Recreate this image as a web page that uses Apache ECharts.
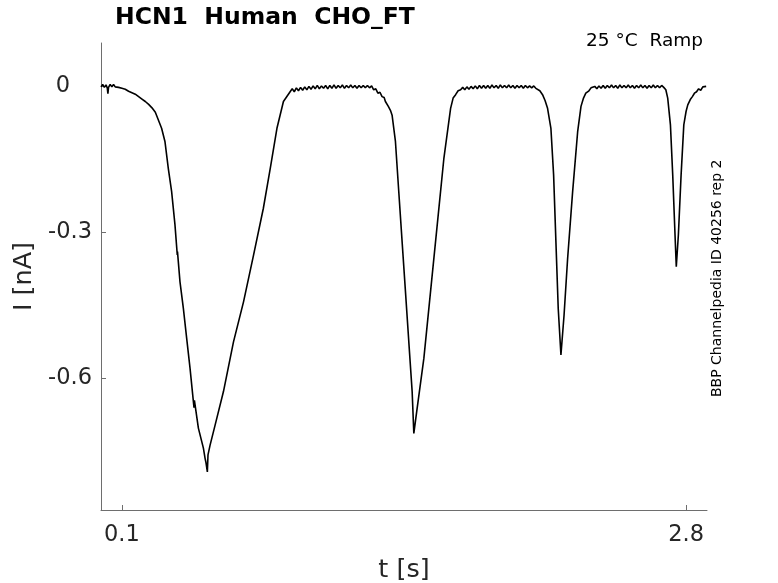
<!DOCTYPE html>
<html>
<head>
<meta charset="utf-8">
<script src="https://cdn.jsdelivr.net/npm/echarts@6/dist/echarts.min.js"></script>
<style>
html,body{margin:0;padding:0;background:#fff;}
#chart{width:778px;height:583px;}
</style>
</head>
<body>
<div id="chart"></div>
<script>
// Trace, segment by segment: time [s] and current [nA]
const baseA_t = [0.000,0.008,0.016,0.024,0.030,0.033,0.036,0.044,0.052,0.060,0.068,0.076,0.084,0.092,0.100,0.108,0.116,0.124,0.132,0.140,0.148,0.156,0.164,0.172,0.180,0.188,0.196,0.204,0.212,0.220,0.228,0.236,0.244,0.252,0.260,0.266];
const baseA_i = [-0.002,0.003,-0.003,0.002,-0.004,-0.016,-0.003,0.003,-0.002,0.003,-0.002,0.002,-0.003,0.001,-0.005,-0.001,-0.007,-0.003,-0.011,-0.007,-0.014,-0.010,-0.017,-0.013,-0.022,-0.019,-0.027,-0.024,-0.032,-0.029,-0.038,-0.035,-0.045,-0.044,-0.054,-0.056];

const trough1_t = [0.290,0.306,0.322,0.338,0.354,0.365,0.366,0.378,0.394,0.410,0.426,0.445,0.447,0.466,0.490,0.498,0.502,0.509,0.512,0.522,0.546,0.586,0.634,0.682,0.730,0.777,0.810,0.842,0.873,0.905];
const trough1_i = [-0.087,-0.114,-0.169,-0.217,-0.285,-0.347,-0.340,-0.402,-0.456,-0.518,-0.579,-0.660,-0.645,-0.702,-0.743,-0.764,-0.772,-0.792,-0.757,-0.737,-0.696,-0.627,-0.525,-0.443,-0.347,-0.251,-0.169,-0.087,-0.032,-0.012];

const baseB_t = [0.915,0.925,0.935,0.945,0.955,0.965,0.975,0.985,0.995,1.005,1.015,1.025,1.035,1.045,1.055,1.065,1.075,1.085,1.095,1.105,1.115,1.125,1.135,1.145,1.155,1.165,1.175,1.185,1.195,1.205,1.215,1.225,1.235,1.245,1.255,1.265,1.275,1.285];
const baseB_i = [-0.006,-0.012,-0.004,-0.010,-0.003,-0.009,-0.002,-0.008,-0.001,-0.007,0.000,-0.006,0.001,-0.006,0.000,-0.005,0.001,-0.006,0.001,-0.005,0.002,-0.005,0.001,-0.004,0.002,-0.005,0.001,-0.004,0.002,-0.004,0.001,-0.005,0.001,-0.004,0.001,-0.004,0.001,-0.004];

const trough2_t = [1.295,1.305,1.315,1.325,1.335,1.345,1.355,1.361,1.375,1.385,1.393,1.409,1.425,1.441,1.457,1.473,1.489,1.497,1.513,1.545,1.577,1.609,1.641,1.673,1.685,1.697,1.709,1.721];
const trough2_i = [0.000,-0.008,-0.006,-0.015,-0.013,-0.022,-0.024,-0.032,-0.042,-0.050,-0.060,-0.114,-0.217,-0.320,-0.422,-0.525,-0.627,-0.713,-0.661,-0.559,-0.422,-0.285,-0.148,-0.046,-0.025,-0.018,-0.010,-0.008];

const baseC_t = [1.731,1.741,1.751,1.761,1.771,1.781,1.791,1.801,1.811,1.821,1.831,1.841,1.851,1.861,1.871,1.881,1.891,1.901,1.911,1.921,1.931,1.941,1.951,1.961,1.971,1.981,1.991,2.001,2.011,2.021,2.031,2.041,2.051,2.061,2.071,2.081];
const baseC_i = [-0.003,-0.008,-0.002,-0.007,-0.001,-0.006,0.000,-0.006,0.001,-0.005,0.001,-0.005,0.001,-0.005,0.002,-0.004,0.001,-0.005,0.002,-0.004,0.001,-0.004,0.002,-0.004,0.001,-0.005,0.001,-0.004,0.001,-0.005,0.001,-0.004,0.000,-0.004,0.000,-0.005];

const trough3_t = [2.089,2.100,2.113,2.125,2.137,2.153,2.166,2.177,2.188,2.201,2.216,2.233,2.257,2.281,2.297,2.309,2.320,2.335,2.345,2.353];
const trough3_i = [-0.003,-0.010,-0.018,-0.030,-0.046,-0.087,-0.183,-0.320,-0.456,-0.552,-0.470,-0.354,-0.217,-0.094,-0.042,-0.025,-0.015,-0.010,-0.004,-0.005];

const baseD_t = [2.363,2.373,2.383,2.393,2.403,2.413,2.423,2.433,2.443,2.453,2.463,2.473,2.483,2.493,2.503,2.513,2.523,2.533,2.543,2.553,2.563,2.573,2.583,2.593,2.603,2.613,2.623,2.633,2.643,2.653,2.663,2.673,2.683,2.693];
const baseD_i = [-0.001,-0.006,0.000,-0.005,0.001,-0.005,0.001,-0.004,0.002,-0.004,0.001,-0.005,0.002,-0.004,0.001,-0.004,0.002,-0.004,0.001,-0.005,0.001,-0.004,0.002,-0.004,0.001,-0.005,0.001,-0.004,0.002,-0.004,0.001,-0.004,0.001,-0.003];

const trough4_t = [2.703,2.712,2.725,2.736,2.747,2.753,2.763,2.776,2.789,2.800,2.808,2.820,2.830,2.840,2.850,2.860,2.870,2.880,2.888,2.896];
const trough4_i = [-0.008,-0.025,-0.080,-0.183,-0.306,-0.371,-0.306,-0.183,-0.080,-0.052,-0.039,-0.028,-0.022,-0.015,-0.012,-0.006,-0.009,-0.002,-0.006,-0.001];

const xTickValues = [0.1, 2.8];
const yTickValues = [-0.6, -0.3, 0];
const titleText = 'HCN1  Human  CHO_FT';
const conditionText = '25 °C  Ramp';
const sideText = 'BBP Channelpedia ID 40256 rep 2';
const xAxisName = 't [s]';
const yAxisName = 'I [nA]';

const timeValues = [].concat(baseA_t, trough1_t, baseB_t, trough2_t, baseC_t, trough3_t, baseD_t, trough4_t);
const currentValues = [].concat(baseA_i, trough1_i, baseB_i, trough2_i, baseC_i, trough3_i, baseD_i, trough4_i);
const seriesData = timeValues.map((t, i) => [t, currentValues[i]]);

const textColor = '#262626';
const axisColor = '#6e6e6e';
const font = 'DejaVu Sans';
const tickFont = 22.5;
const nameFont = 25.5;

const chart = echarts.init(document.getElementById('chart'), null, {renderer: 'canvas'});
chart.setOption({
  animation: false,
  backgroundColor: '#ffffff',
  grid: {left: 101, right: 71, top: 43, bottom: 73, containLabel: false, outerBoundsMode: 'none'},
  xAxis: {
    type: 'value',
    min: 0,
    max: 2.9,
    name: xAxisName,
    nameLocation: 'middle',
    nameGap: 47,
    nameTextStyle: {fontFamily: font, fontSize: nameFont, color: textColor},
    axisLine: {show: true, onZero: false, lineStyle: {color: axisColor, width: 1}},
    axisTick: {show: true, inside: true, length: 5, customValues: xTickValues, lineStyle: {color: axisColor}},
    axisLabel: {show: true, customValues: xTickValues, margin: 14, fontFamily: font, fontSize: tickFont, color: textColor,
      formatter: v => String(Math.round(v * 10) / 10)},
    splitLine: {show: false}
  },
  yAxis: {
    type: 'value',
    min: -0.87,
    max: 0.088,
    name: yAxisName,
    nameLocation: 'middle',
    nameGap: 58,
    nameRotate: 90,
    nameTextStyle: {fontFamily: font, fontSize: nameFont, color: textColor},
    axisLine: {show: true, onZero: false, lineStyle: {color: axisColor, width: 1}},
    axisTick: {show: true, inside: true, length: 5, customValues: yTickValues, lineStyle: {color: axisColor}},
    axisLabel: {show: true, customValues: yTickValues, margin: 9, fontFamily: font, fontSize: tickFont, color: textColor,
      formatter: v => (Math.abs(v) < 1e-9 ? '{z|0}' : String(Math.round(v * 10) / 10)),
      rich: {z: {fontFamily: font, fontSize: tickFont, color: textColor, padding: [0, 22, 0, 0]}}},
    splitLine: {show: false}
  },
  graphic: [
    {type: 'text', x: 115, y: 17.7,
      style: {text: titleText, fontFamily: font, fontSize: 23.5, fontWeight: 'bold', fill: '#000', align: 'left', verticalAlign: 'middle'}},
    {type: 'text', x: 703, y: 41,
      style: {text: conditionText, fontFamily: font, fontSize: 18.5, fill: '#000', align: 'right', verticalAlign: 'middle'}},
    {type: 'text', x: 717, y: 278.3, rotation: Math.PI / 2,
      style: {text: sideText, fontFamily: font, fontSize: 14, fill: '#000', align: 'center', verticalAlign: 'middle'}}
  ],
  series: [{
    type: 'line',
    data: seriesData,
    showSymbol: false,
    smooth: false,
    lineStyle: {color: '#000', width: 1.6},
    clip: true
  }]
});
</script>
</body>
</html>
